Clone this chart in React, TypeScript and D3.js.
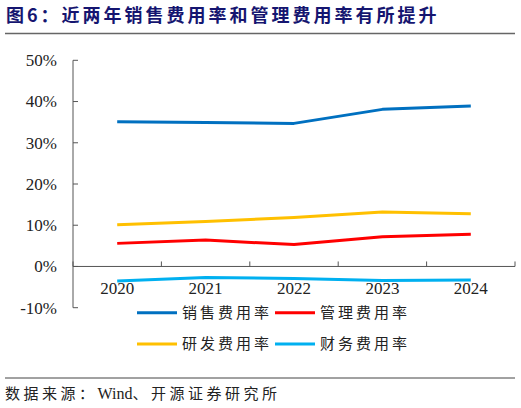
import React from "react";
import * as d3 from "d3";

const years = ["2020", "2021", "2022", "2023", "2024"];
const salesRate = [35.1, 34.9, 34.7, 38.1, 38.9];
const adminRate = [5.6, 6.4, 5.3, 7.2, 7.8];
const rdRate = [10.1, 10.9, 11.9, 13.2, 12.8];
const financeRate = [-3.5, -2.7, -2.9, -3.4, -3.3];
const yTicks = [-10, 0, 10, 20, 30, 40, 50];

const series = [
  { name: "销售费用率", values: salesRate, color: "#0070C0" },
  { name: "管理费用率", values: adminRate, color: "#FF0000" },
  { name: "研发费用率", values: rdRate, color: "#FFC000" },
  { name: "财务费用率", values: financeRate, color: "#00B0F0" },
];

const W = 521;
const H = 408;
const plot = { left: 73, right: 515, top: 60.3, bottom: 307.7 };
const serif = "'Liberation Serif', 'Times New Roman', serif";
const cjk = "'Noto Sans CJK SC', sans-serif";

export default function App() {
  const x = d3.scaleBand<string>().domain(years).range([plot.left, plot.right]);
  const y = d3.scaleLinear().domain([-10, 50]).range([plot.bottom, plot.top]);
  const y0 = y(0);
  const cx = (d: string) => (x(d) ?? 0) + x.bandwidth() / 2;

  const line = d3
    .line<number>()
    .x((_, i) => cx(years[i]))
    .y((v) => y(v));

  const axisColor = "#555";
  const xTicks = [...years.map((d) => x(d) ?? 0), plot.right];

  return (
    <div style={{ position: "absolute", left: 0, top: 0 }}>
      <svg width={W} height={H} style={{ display: "block", background: "#fff" }}>
        {/* title */}
        <text x={6} y={22} fill="#151570" fontFamily={cjk} fontWeight="bold" fontSize={18} letterSpacing={3}>
          图6：近两年销售费用率和管理费用率有所提升
        </text>
        <line x1={5} x2={515} y1={33.5} y2={33.5} stroke="#666" strokeWidth={1.5} />

        {/* y axis */}
        <line x1={plot.left} x2={plot.left} y1={plot.top} y2={plot.bottom} stroke={axisColor} strokeWidth={1} />
        {yTicks.map((t) => (
          <g key={t}>
            <line x1={plot.left} x2={plot.left + 5} y1={y(t)} y2={y(t)} stroke={axisColor} />
            <text
              x={57}
              y={y(t)}
              dy="0.35em"
              textAnchor="end"
              fontFamily={serif}
              fontSize={17}
              fill="#222"
            >
              {t}%
            </text>
          </g>
        ))}

        {/* x axis at 0 */}
        <line x1={plot.left} x2={plot.right} y1={y0} y2={y0} stroke={axisColor} strokeWidth={1} />
        {xTicks.map((tx, i) => (
          <line key={i} x1={tx} x2={tx} y1={y0} y2={y0 - 5} stroke={axisColor} />
        ))}
        {years.map((d) => (
          <text key={d} x={cx(d)} y={294} textAnchor="middle" fontFamily={serif} fontSize={17} fill="#222">
            {d}
          </text>
        ))}

        {/* lines */}
        {series.map((s) => (
          <path
            key={s.name}
            d={line(s.values) ?? ""}
            fill="none"
            stroke={s.color}
            strokeWidth={3}
            strokeLinejoin="round"
          />
        ))}

        {/* legend */}
        {series.map((s, i) => {
          const col = i % 2;
          const row = Math.floor(i / 2);
          const lx = col === 0 ? 137 : 275;
          const ly = row === 0 ? 312.7 : 344;
          return (
            <g key={s.name}>
              <line x1={lx} x2={lx + 40} y1={ly} y2={ly} stroke={s.color} strokeWidth={3} />
              <text x={lx + 45} y={ly} dy="0.35em" fontFamily={cjk} fontSize={15} letterSpacing={3} fill="#222">
                {s.name}
              </text>
            </g>
          );
        })}

        {/* footer */}
        <line x1={5} x2={515} y1={378} y2={378} stroke="#444" strokeWidth={1} />
        <text x={5} y={399} fontFamily={cjk} fontSize={15} letterSpacing={3.5} fill="#222">
          数据来源：<tspan fontFamily={serif} fontSize={16} letterSpacing={0}>Wind</tspan>、开源证券研究所
        </text>
      </svg>
    </div>
  );
}
